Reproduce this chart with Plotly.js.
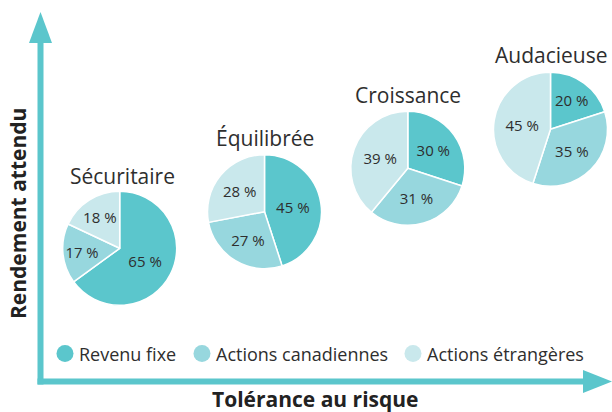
<!DOCTYPE html>
<html>
<head>
<meta charset="utf-8">
<script src="https://cdn.plot.ly/plotly-3.0.1.min.js"></script>
<style>html,body{margin:0;padding:0;background:#fff;}#chart{width:612px;height:412px;}</style>
</head>
<body>
<div id="chart"></div>
<script>
// ---- data ----
const categories = ['Revenu fixe', 'Actions canadiennes', 'Actions étrangères'];
const portfolios = ['Sécuritaire', 'Équilibrée', 'Croissance', 'Audacieuse'];
const securitaire = [65, 17, 18];
const equilibree = [45, 27, 28];
const croissance = [30, 31, 39];
const audacieuse = [20, 35, 45];
const xAxisTitle = 'Tolérance au risque';
const yAxisTitle = 'Rendement attendu';

// ---- styles / layout helpers ----
const W = 612, H = 412;
const colors = ['#5BC6CC', '#97D7DE', '#C9E8EC'];
const axisColor = '#5BC6CC';
const textColor = '#2e2e2e';
const font = 'Open Sans, sans-serif';
const px = x => x / W;
const py = y => 1 - y / H;

const seriesValues = [securitaire, equilibree, croissance, audacieuse];
// pie centres (pixels) and radius
const centres = [[119.7, 248.3], [264.5, 211.7], [407.8, 168.3], [550.5, 129.3]];
const R = 57;
const titlePos = [[122, 176], [265, 138], [408, 95], [551, 55]];

const traces = seriesValues.map((vals, i) => {
  const [cx, cy] = centres[i];
  return {
    type: 'pie',
    name: portfolios[i],
    labels: categories,
    values: vals,
    sort: false,
    direction: 'clockwise',
    rotation: 0,
    marker: {colors: colors, line: {color: '#ffffff', width: 1.5}},
    texttemplate: '%{value} %',
    textposition: 'inside',
    insidetextorientation: 'horizontal',
    textfont: {family: font, size: 15, color: textColor},
    hoverinfo: 'label+value',
    showlegend: false,
    domain: {x: [px(cx - R), px(cx + R)], y: [py(cy + R), py(cy - R)]}
  };
});

const annotations = portfolios.map((p, i) => ({
  text: p, xref: 'paper', yref: 'paper',
  x: px(titlePos[i][0]), y: py(titlePos[i][1]),
  xanchor: 'center', yanchor: 'middle', showarrow: false,
  font: {family: font, size: 21, color: textColor}
}));

// axis titles
annotations.push({
  text: '<b>' + xAxisTitle + '</b>', xref: 'paper', yref: 'paper',
  x: px(315), y: py(399), xanchor: 'center', yanchor: 'middle', showarrow: false,
  font: {family: font, size: 21, color: '#222222'}
});
annotations.push({
  text: '<b>' + yAxisTitle + '</b>', xref: 'paper', yref: 'paper',
  x: px(18), y: py(214), xanchor: 'center', yanchor: 'middle', showarrow: false,
  textangle: -90,
  font: {family: font, size: 21, color: '#222222'}
});

// legend (manual: circle markers + labels)
const legendCx = [65, 202, 413];
const legendCy = 353.5;
const shapes = [];
categories.forEach((c, i) => {
  shapes.push({
    type: 'circle', xref: 'paper', yref: 'paper',
    xsizemode: 'pixel', ysizemode: 'pixel',
    xanchor: px(legendCx[i]), yanchor: py(legendCy),
    x0: -8.5, x1: 8.5, y0: -8.5, y1: 8.5,
    fillcolor: colors[i], line: {width: 0}
  });
  annotations.push({
    text: c, xref: 'paper', yref: 'paper',
    x: px(legendCx[i] + 11.5), y: py(legendCy),
    xanchor: 'left', yanchor: 'middle', showarrow: false,
    font: {family: font, size: 18, color: textColor}
  });
});

// axis arrows
shapes.push({type: 'line', xref: 'paper', yref: 'paper',
  x0: px(40.5), x1: px(40.5), y0: py(384.5), y1: py(40), line: {color: axisColor, width: 6}});
shapes.push({type: 'line', xref: 'paper', yref: 'paper',
  x0: px(37.5), x1: px(586), y0: py(381.5), y1: py(381.5), line: {color: axisColor, width: 6}});
shapes.push({type: 'path', xref: 'paper', yref: 'paper',
  path: `M ${px(40.5)},${py(12)} L ${px(52)},${py(43)} L ${px(29)},${py(43)} Z`,
  fillcolor: axisColor, line: {width: 0}});
shapes.push({type: 'path', xref: 'paper', yref: 'paper',
  path: `M ${px(612)},${py(381.5)} L ${px(583)},${py(370)} L ${px(583)},${py(393)} Z`,
  fillcolor: axisColor, line: {width: 0}});

const layout = {
  width: W, height: H,
  margin: {l: 0, r: 0, t: 0, b: 0, pad: 0},
  paper_bgcolor: '#ffffff', plot_bgcolor: '#ffffff',
  font: {family: font, color: textColor},
  showlegend: false,
  annotations: annotations,
  shapes: shapes
};

Plotly.newPlot('chart', traces, layout, {displayModeBar: false, staticPlot: true});
</script>
</body>
</html>
